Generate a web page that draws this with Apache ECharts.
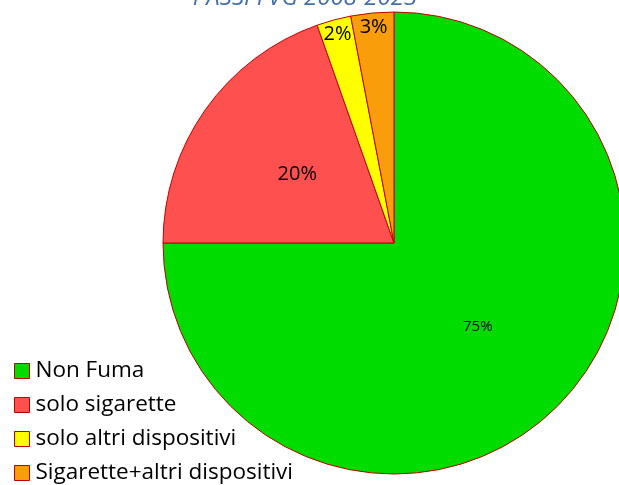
<!DOCTYPE html>
<html>
<head>
<meta charset="utf-8">
<script src="https://cdn.jsdelivr.net/npm/echarts@6/dist/echarts.min.js"></script>
<style>
  html, body { margin: 0; padding: 0; background: #fff; }
  #chart { width: 619px; height: 485px; }
</style>
</head>
<body>
<div id="chart"></div>
<script>
const categories = ["Non Fuma", "solo sigarette", "solo altri dispositivi", "Sigarette+altri dispositivi"];
const values = [75.0, 19.6, 2.4, 3.0];
const colors = ["#00dc00", "#ff5050", "#ffff00", "#f99d0a"];
// which slices get the label near the rim instead of mid-radius
const rimLabel = [false, false, true, true];

const chart = echarts.init(document.getElementById("chart"));

const font = "'Open Sans', sans-serif";

const mainData = categories.map((name, i) => ({
  name: name,
  value: values[i],
  itemStyle: { color: colors[i] },
  label: {
    show: !rimLabel[i],
    fontSize: i === 0 ? 15 : 20
  }
}));

const rimData = categories.map((name, i) => ({
  name: name,
  value: values[i],
  label: { show: rimLabel[i] }
}));

chart.setOption({
  animation: false,
  title: {
    text: "PASSI FVG 2008-2023",
    left: 300,
    textAlign: "center",
    top: -19,
    textStyle: {
      fontFamily: font,
      fontStyle: "italic",
      fontWeight: "normal",
      fontSize: 24,
      color: "#4670aa"
    }
  },
  legend: {
    orient: "vertical",
    left: 9,
    top: 352,
    height: 135,
    itemWidth: 15,
    itemHeight: 15,
    itemGap: 6,
    icon: "rect",
    data: categories,
    itemStyle: { borderColor: "#c00000", borderWidth: 1 },
    textStyle: { fontFamily: font, fontSize: 22.5, lineHeight: 28, color: "#000", padding: [0, 0, 0, 1] }
  },
  series: [
    {
      type: "pie",
      center: [394, 243],
      radius: 231,
      startAngle: 90,
      clockwise: true,
      itemStyle: { borderColor: "#c00000", borderWidth: 1 },
      label: {
        position: "inside",
        formatter: (p) => Math.round(p.value) + "%",
        color: "#000",
        fontFamily: font
      },
      labelLine: { show: false },
      emphasis: { disabled: true },
      data: mainData
    },
    {
      type: "pie",
      center: [394, 243],
      radius: [196, 231],
      startAngle: 90,
      clockwise: true,
      silent: true,
      legendHoverLink: false,
      itemStyle: { color: "rgba(0,0,0,0)", borderWidth: 0 },
      label: {
        position: "inside",
        formatter: (p) => Math.round(p.value) + "%",
        color: "#000",
        fontFamily: font,
        fontSize: 20
      },
      labelLine: { show: false },
      emphasis: { disabled: true },
      data: rimData
    }
  ]
});
</script>
</body>
</html>
